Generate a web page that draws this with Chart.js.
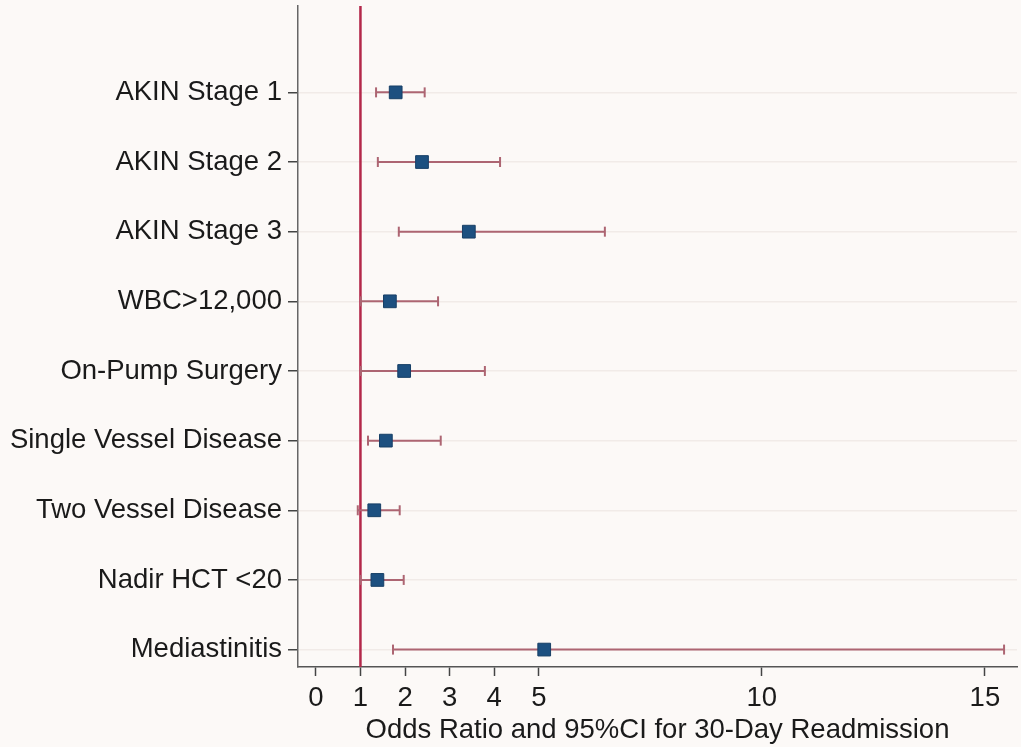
<!DOCTYPE html>
<html lang="en">
<head>
    <meta charset="UTF-8">
    <title>Odds Ratio Forest Plot</title>
    <script src="https://cdn.jsdelivr.net/npm/chart.js"></script>
    <style>
        html, body {
            margin: 0;
            padding: 0;
            background-color: #fcf9f7;
        }
        #forest {
            display: block;
        }
    </style>
</head>
<body>

<canvas id="forest" width="1021" height="747"></canvas>

<script>
    // Data
    const labels = ['AKIN Stage 1', 'AKIN Stage 2', 'AKIN Stage 3', 'WBC>12,000', 'On-Pump Surgery',
                    'Single Vessel Disease', 'Two Vessel Disease', 'Nadir HCT <20', 'Mediastinitis'];
    const oddsRatio = [1.79, 2.38, 3.43, 1.66, 1.98, 1.57, 1.31, 1.38, 5.12];
    const ciLow = [1.35, 1.39, 1.86, 1.01, 1.01, 1.17, 0.94, 1.00, 1.73];
    const ciHigh = [2.44, 4.13, 6.48, 2.74, 3.79, 2.80, 1.88, 1.97, 15.43];
    const xTicks = [0, 1, 2, 3, 4, 5, 10, 15];
    const refLine = 1;

    const FONT = "'Liberation Sans', Arial, sans-serif";
    const BAR_COLOR = '#ad6572';

    // points on top, then error bars, then the reference line
    const datasets = [];
    datasets.push({
        data: oddsRatio.map((v, i) => ({ x: v, y: i })),
        showLine: false,
        pointStyle: 'rect',
        pointRadius: 9,
        backgroundColor: '#1d5080',
        borderColor: '#173f66',
        borderWidth: 1
    });
    labels.forEach((name, i) => {
        datasets.push({
            data: [{ x: ciLow[i], y: i }, { x: ciHigh[i], y: i }],
            showLine: true,
            borderColor: BAR_COLOR,
            borderWidth: 2,
            pointStyle: 'line',
            pointRotation: 90,
            pointRadius: 5,
            pointBorderColor: BAR_COLOR,
            pointBorderWidth: 2
        });
    });
    datasets.push({
        data: [{ x: refLine, y: -1.24 }, { x: refLine, y: 8.25 }],
        showLine: true,
        borderColor: '#b3284a',
        borderWidth: 2.5,
        pointRadius: 0
    });

    new Chart(document.getElementById('forest'), {
        type: 'scatter',
        data: { datasets: datasets },
        options: {
            responsive: false,
            animation: false,
            layout: {
                autoPadding: false,
                padding: { top: 6, right: 4, left: 0, bottom: 0 }
            },
            plugins: {
                legend: { display: false },
                tooltip: { enabled: false }
            },
            scales: {
                x: {
                    type: 'linear',
                    min: -0.40,
                    max: 15.72,
                    afterBuildTicks: function(scale) {
                        scale.ticks = xTicks.map(v => ({ value: v }));
                    },
                    afterFit: function(scale) {
                        scale.height = 80;
                        scale.paddingLeft = 0;
                        scale.paddingRight = 0;
                    },
                    grid: {
                        drawOnChartArea: false,
                        drawTicks: true,
                        tickLength: 9,
                        tickColor: '#444',
                        tickWidth: 1.5
                    },
                    border: { color: '#555', width: 1.5 },
                    ticks: {
                        color: '#1a1a1a',
                        font: { family: FONT, size: 27.5 },
                        padding: 6,
                        autoSkip: false,
                        maxRotation: 0
                    },
                    title: {
                        display: true,
                        text: 'Odds Ratio and 95%CI for 30-Day Readmission',
                        color: '#1a1a1a',
                        font: { family: FONT, size: 27.5 },
                        padding: { top: 0, bottom: 0 }
                    }
                },
                y: {
                    type: 'linear',
                    reverse: true,
                    min: -1.24,
                    max: 8.25,
                    afterBuildTicks: function(scale) {
                        scale.ticks = labels.map((n, i) => ({ value: i }));
                    },
                    afterFit: function(scale) {
                        scale.width = 298;
                        scale.paddingTop = 0;
                        scale.paddingBottom = 0;
                    },
                    grid: {
                        drawOnChartArea: true,
                        color: '#f1ebe8',
                        lineWidth: 1.5,
                        drawTicks: true,
                        tickLength: 10,
                        tickColor: '#444',
                        tickWidth: 1.5
                    },
                    border: { color: '#666', width: 1.5 },
                    ticks: {
                        color: '#1a1a1a',
                        font: { family: FONT, size: 27.5 },
                        padding: 6,
                        autoSkip: false,
                        callback: function(value) {
                            return labels[value];
                        }
                    }
                }
            }
        }
    });
</script>

</body>
</html>
